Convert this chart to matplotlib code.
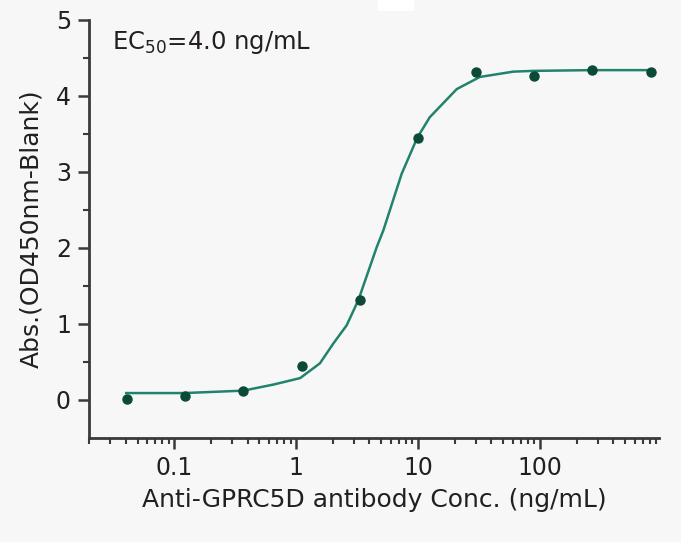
import matplotlib
matplotlib.use("Agg")
import matplotlib.pyplot as plt
from matplotlib.ticker import FixedLocator, LogLocator, NullFormatter, FuncFormatter
from matplotlib.patches import Rectangle

# measured points (3-fold dilution series)
conc = [0.0412, 0.1235, 0.370, 1.111, 3.333, 10, 30, 90, 270, 810]
absorb = [0.01, 0.05, 0.12, 0.45, 1.31, 3.45, 4.32, 4.26, 4.34, 4.32]

# fitted curve as drawn (vertices)
fit_x = [0.0404, 0.121, 0.37, 0.652, 1.08, 1.57, 2.02, 2.6, 3.24, 4.59,
         5.2, 7.35, 9.87, 12.5, 20.8, 32.2, 60.4, 88, 265, 798]
fit_y = [0.088, 0.088, 0.12, 0.20, 0.285, 0.48, 0.74, 0.98, 1.31, 2.01,
         2.23, 2.975, 3.45, 3.72, 4.09, 4.25, 4.32, 4.33, 4.34, 4.34]

x_ticks = [0.1, 1, 10, 100]
y_ticks = [0, 1, 2, 3, 4, 5]

plt.rcParams['font.family'] = ['DejaVu Sans']
bg = "#f7f7f7"
ink = "#231f20"
spine_c = "#3a3a3a"

fig = plt.figure(figsize=(6.81, 5.42), dpi=100, facecolor=bg)
ax = fig.add_axes([0.1307, 0.1924, 0.837, 0.7707], facecolor=bg)

ax.plot(fit_x, fit_y, color="#22836c", lw=1.8, zorder=2)
ax.plot(conc, absorb, "o", color="#0b4a36", ms=6.5, zorder=3)

ax.set_xscale("log")
ax.set_xlim(0.02, 950)
ax.set_ylim(-0.5, 5)

ax.xaxis.set_major_locator(FixedLocator(x_ticks))
ax.xaxis.set_major_formatter(FuncFormatter(lambda v, p: f"{v:g}"))
ax.xaxis.set_minor_locator(LogLocator(base=10, subs=range(2, 10)))
ax.xaxis.set_minor_formatter(NullFormatter())
ax.yaxis.set_major_locator(FixedLocator(y_ticks))
ax.yaxis.set_minor_locator(FixedLocator([0.5, 1.5, 2.5, 3.5, 4.5]))

for s in ("top", "right"):
    ax.spines[s].set_visible(False)
for s in ("left", "bottom"):
    ax.spines[s].set_color(spine_c)
    ax.spines[s].set_linewidth(2)

ax.tick_params(which="major", length=8, width=1.8, color=spine_c,
               labelsize=17, labelcolor=ink, pad=5)
ax.tick_params(which="minor", length=4, width=1.5, color=spine_c)

ax.set_xlabel("Anti-GPRC5D antibody Conc. (ng/mL)", fontsize=18, color=ink, labelpad=6)
ax.set_ylabel("Abs.(OD450nm-Blank)", fontsize=18, color=ink, labelpad=9)

ax.text(0.04, 0.947, r"EC$_{\mathregular{50}}$=4.0 ng/mL", transform=ax.transAxes,
        fontsize=17.5, color=ink, va="center", ha="left")

fig.patches.append(Rectangle((378 / 681, 1 - 11 / 542), 36 / 681, 11 / 542,
                             transform=fig.transFigure, facecolor="white",
                             edgecolor="none"))

fig.savefig("out.png", dpi=100, facecolor=bg)
